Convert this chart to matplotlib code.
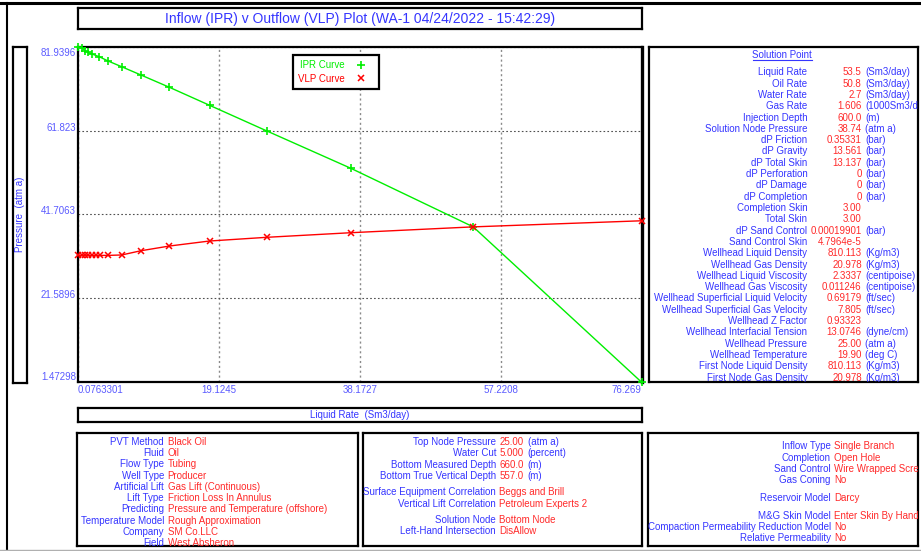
import matplotlib
matplotlib.use("Agg")
import matplotlib.pyplot as plt
from matplotlib.lines import Line2D
from matplotlib import transforms

plt.rcParams['font.family'] = ['Liberation Sans', 'DejaVu Sans']

# --- IPR / VLP curve data (liquid rate in Sm3/day, pressure in atm a) ---
ipr_rate = [0.0763301, 0.62, 1.06, 1.37, 1.97, 2.95, 4.08, 5.97, 8.59, 12.44,
            17.86, 25.61, 36.96, 53.5, 76.269]
ipr_pressure = [81.9396, 81.56, 80.98, 80.60, 80.19, 79.54, 78.56, 77.14, 75.15,
                72.20, 67.89, 61.73, 52.78, 38.74, 1.47298]

vlp_rate = [0.0763301, 0.62, 1.06, 1.37, 1.97, 2.45, 3.1, 4.08, 5.97, 8.59, 12.44,
            17.86, 25.61, 36.96, 53.5, 76.269]
vlp_pressure = [31.9, 31.9, 31.9, 31.9, 31.9, 31.9, 31.9, 31.9, 32.0, 33.02, 34.15,
                35.35, 36.24, 37.34, 38.74, 40.2]

x_ticks = [0.0763301, 19.1245, 38.1727, 57.2208, 76.269]
x_tick_labels = ["0.0763301", "19.1245", "38.1727", "57.2208", "76.269"]
y_ticks = [1.47298, 21.5896, 41.7063, 61.823, 81.9396]
y_tick_labels = ["1.47298", "21.5896", "41.7063", "61.823", "81.9396"]

title_text = "Inflow (IPR) v Outflow (VLP) Plot (WA-1 04/24/2022 - 15:42:29)"

# --- solution point table ---
sol_labels = ["Liquid Rate", "Oil Rate", "Water Rate", "Gas Rate", "Injection Depth",
              "Solution Node Pressure", "dP Friction", "dP Gravity", "dP Total Skin",
              "dP Perforation", "dP Damage", "dP Completion", "Completion Skin",
              "Total Skin", "dP Sand Control", "Sand Control Skin",
              "Wellhead Liquid Density", "Wellhead Gas Density",
              "Wellhead Liquid Viscosity", "Wellhead Gas Viscosity",
              "Wellhead Superficial Liquid Velocity", "Wellhead Superficial Gas Velocity",
              "Wellhead Z Factor", "Wellhead Interfacial Tension", "Wellhead Pressure",
              "Wellhead Temperature", "First Node Liquid Density", "First Node Gas Density"]
sol_values = ["53.5", "50.8", "2.7", "1.606", "600.0", "38.74", "0.35331", "13.561",
              "13.137", "0", "0", "0", "3.00", "3.00", "0.00019901", "4.7964e-5",
              "810.113", "20.978", "2.3337", "0.011246", "0.69179", "7.805", "0.93323",
              "13.0746", "25.00", "19.90", "810.113", "20.978"]
sol_units = ["(Sm3/day)", "(Sm3/day)", "(Sm3/day)", "(1000Sm3/day)", "(m)", "(atm a)",
             "(bar)", "(bar)", "(bar)", "(bar)", "(bar)", "(bar)", "", "", "(bar)", "",
             "(Kg/m3)", "(Kg/m3)", "(centipoise)", "(centipoise)", "(ft/sec)", "(ft/sec)",
             "", "(dyne/cm)", "(atm a)", "(deg C)", "(Kg/m3)", "(Kg/m3)"]

# --- lower info tables ---
well_labels = ["PVT Method", "Fluid", "Flow Type", "Well Type", "Artificial Lift",
               "Lift Type", "Predicting", "Temperature Model", "Company", "Field"]
well_values = ["Black Oil", "Oil", "Tubing", "Producer", "Gas Lift (Continuous)",
               "Friction Loss In Annulus", "Pressure and Temperature (offshore)",
               "Rough Approximation", "SM Co.LLC", "West Absheron"]

tubing_labels = ["Top Node Pressure", "Water Cut", "Bottom Measured Depth",
                 "Bottom True Vertical Depth", "Surface Equipment Correlation",
                 "Vertical Lift Correlation", "Solution Node", "Left-Hand Intersection"]
tubing_values = ["25.00", "5.000", "660.0", "557.0", "Beggs and Brill",
                 "Petroleum Experts 2", "Bottom Node", "DisAllow"]
tubing_units = ["(atm a)", "(percent)", "(m)", "(m)", "", "", "", ""]
tubing_groups = [4, 2, 2]

reservoir_labels = ["Inflow Type", "Completion", "Sand Control", "Gas Coning",
                    "Reservoir Model", "M&G Skin Model",
                    "Compaction Permeability Reduction Model", "Relative Permeability"]
reservoir_values = ["Single Branch", "Open Hole", "Wire Wrapped Screen", "No", "Darcy",
                    "Enter Skin By Hand", "No", "No"]
reservoir_groups = [4, 1, 3]

BLUE = "#3535ff"
RED = "#ff2a2a"
TICK_BLUE = "#5a5aff"
GREEN = "#00ee00"
FS = 7

W, H = 921, 551
fig = plt.figure(figsize=(W / 100, H / 100), dpi=100)


def fig_rect(x0, y0, x1, y1):
    return [x0 / W, 1 - y1 / H, (x1 - x0) / W, (y1 - y0) / H]


def make_panel(x0, y0, x1, y1, lw=1.6):
    pax = fig.add_axes(fig_rect(x0, y0, x1, y1))
    pax.set_xlim(0, x1 - x0)
    pax.set_ylim(y1 - y0, 0)
    pax.set_xticks([])
    pax.set_yticks([])
    for sp in pax.spines.values():
        sp.set_linewidth(lw)
        sp.set_color("black")
    return pax


def group_rows(groups, y0, step, gap):
    ys = []
    y = y0
    for g in groups:
        for _ in range(g):
            ys.append(y)
            y += step
        y += gap
    return ys


# outer frame
fig.add_artist(Line2D([0, 1], [1 - 3 / H, 1 - 3 / H], color="black", lw=2.2))
fig.add_artist(Line2D([6.5 / W, 6.5 / W], [1 - 3 / H, 1 - 549 / H], color="black", lw=1.5))
fig.add_artist(Line2D([0, 1], [1 - 549.5 / H, 1 - 549.5 / H], color="#b0b0b0", lw=1))

# title box
tax = make_panel(78, 8, 641.7, 29)
tax.text(0.5, 0.5, title_text, transform=tax.transAxes, ha="center", va="center",
         fontsize=10, color=BLUE)

# y label box
yax = make_panel(12.7, 46.7, 27.3, 382.7)
yax.text(0.5, 0.5, "Pressure  (atm a)", transform=yax.transAxes, rotation=90,
         ha="center", va="center", fontsize=FS, color=BLUE)

# x label box
xax = make_panel(78, 408.3, 641.7, 421.7)
xax.text(0.5, 0.5, "Liquid Rate  (Sm3/day)", transform=xax.transAxes,
         ha="center", va="center", fontsize=FS, color=BLUE)

# main plot
ax = fig.add_axes(fig_rect(78, 46.7, 641.7, 382.3))
ax.set_xlim(x_ticks[0], x_ticks[-1])
ax.set_ylim(y_ticks[0], y_ticks[-1])
ax.set_xticks(x_ticks)
ax.set_yticks(y_ticks)
ax.set_xticklabels([])
ax.set_yticklabels([])
ax.tick_params(length=0)
ax.xaxis.grid(True, color="#8a8a8a", linestyle=(0, (1.5, 2)), linewidth=1)
ax.yaxis.grid(True, color="#505050", linestyle=(0, (1.5, 2)), linewidth=0.8)
for name, sp in ax.spines.items():
    sp.set_linewidth(1.6)
ax.spines["right"].set_linewidth(2.4)

ax.plot(ipr_rate, ipr_pressure, color=GREEN, lw=1, marker="+", ms=5.5, mew=1.2,
        clip_on=False, zorder=3)
ax.plot(vlp_rate, vlp_pressure, color="red", lw=1, marker="x", ms=4.5, mew=1.1,
        clip_on=False, zorder=3)

# tick labels
xform_x = transforms.blended_transform_factory(ax.transData, ax.transAxes)
x_align = ["left", "center", "center", "center", "right"]
for v, lab, ha in zip(x_ticks, x_tick_labels, x_align):
    ax.text(v, 0, lab, transform=transforms.offset_copy(xform_x, fig, y=-7.7, units="dots"),
            ha=ha, va="center", fontsize=FS, color=TICK_BLUE, clip_on=False)

xform_y = transforms.blended_transform_factory(ax.transAxes, ax.transData)
y_shift = [5.6, 3, 3, 2.7, -6]
for v, lab, dy in zip(y_ticks, y_tick_labels, y_shift):
    ax.text(0, v, lab, transform=transforms.offset_copy(xform_y, fig, x=-2, y=dy, units="dots"),
            ha="right", va="center", fontsize=FS, color=TICK_BLUE, clip_on=False)

handles = [Line2D([], [], color=GREEN, marker="+", ls="none", ms=5.5, mew=1.2),
           Line2D([], [], color="red", marker="x", ls="none", ms=4.5, mew=1.1)]
leg = ax.legend(handles, ["IPR Curve", "VLP Curve"], loc="upper left",
                bbox_to_anchor=(293 / W, 1 - 55 / H), bbox_transform=fig.transFigure,
                markerfirst=False, fontsize=FS, labelcolor="linecolor", fancybox=False,
                edgecolor="black", framealpha=1, borderaxespad=0, handlelength=2.6,
                handletextpad=0.3, borderpad=0.55, labelspacing=0.35)
leg.get_frame().set_linewidth(1.6)

# solution point panel
sax = make_panel(649, 46.7, 917.7, 382.3)
sax.text(133, 8.3, "Solution Point", ha="center", va="center", fontsize=FS, color=BLUE)
sax.plot([104, 163], [13.8, 13.8], color=BLUE, lw=0.8)
for i, (lab, val, unit) in enumerate(zip(sol_labels, sol_values, sol_units)):
    y = 25.6 + i * 11.31
    sax.text(158.3, y, lab, ha="right", va="center", fontsize=FS, color=BLUE, clip_on=True)
    sax.text(212.7, y, val, ha="right", va="center", fontsize=FS, color=RED, clip_on=True)
    if unit:
        sax.text(216, y, unit, ha="left", va="center", fontsize=FS, color=BLUE, clip_on=True)

# well info panel
wax = make_panel(77.3, 433.3, 357.7, 546)
for i, (lab, val) in enumerate(zip(well_labels, well_values)):
    y = 8.4 + i * 11.29
    wax.text(86.7, y, lab, ha="right", va="center", fontsize=FS, color=BLUE, clip_on=True)
    wax.text(90.4, y, val, ha="left", va="center", fontsize=FS, color=RED, clip_on=True)

# tubing / correlation panel
bax = make_panel(362.7, 433.3, 641.7, 546)
for y, lab, val, unit in zip(group_rows(tubing_groups, 8.7, 11.3, 5.2),
                             tubing_labels, tubing_values, tubing_units):
    bax.text(133.3, y, lab, ha="right", va="center", fontsize=FS, color=BLUE, clip_on=True)
    bax.text(136.6, y, val, ha="left", va="center", fontsize=FS, color=RED, clip_on=True)
    if unit:
        bax.text(165, y, unit, ha="left", va="center", fontsize=FS, color=BLUE, clip_on=True)

# reservoir panel
rax = make_panel(648.3, 433.3, 917.7, 546)
for y, lab, val in zip(group_rows(reservoir_groups, 13, 11.3, 6.4),
                       reservoir_labels, reservoir_values):
    rax.text(182.4, y, lab, ha="right", va="center", fontsize=FS, color=BLUE, clip_on=True)
    rax.text(186, y, val, ha="left", va="center", fontsize=FS, color=RED, clip_on=True)

fig.savefig("out.png", dpi=100)
